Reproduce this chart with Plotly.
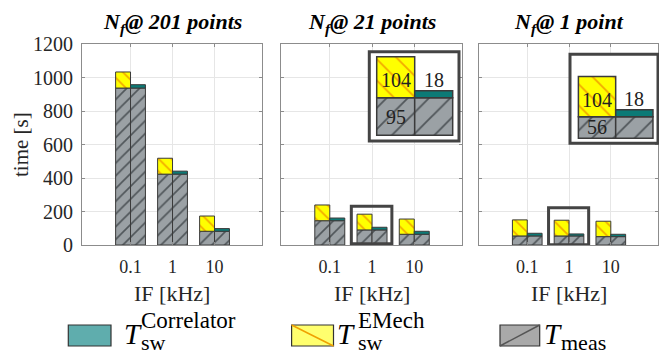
import plotly.graph_objects as go

# ---------------- data ----------------
if_labels = ["0.1", "1", "10"]
panel_titles = ["201 points", "21 points", "1 point"]

t_meas_201 = [937, 423, 82]
t_emech_201 = [96, 95, 91]
t_corr_201 = [20, 18, 16]

t_meas_21 = [145, 90, 64]
t_emech_21 = [94, 94, 91]
t_corr_21 = [16, 16, 18]

t_meas_1 = [54, 54, 50]
t_emech_1 = [96, 94, 92]
t_corr_1 = [16, 12, 14]

inset21_meas = [95]
inset21_emech = [104]
inset21_corr = [18]
inset1_meas = [56]
inset1_emech = [104]
inset1_corr = [18]

# ---------------- styling ----------------
W, H = 659, 354
SERIF = "Liberation Serif"
GRAY = "#9ba1a5"
GRAY_HATCH = "#50565a"
YEL = "#ffff00"
YEL_HATCH = "#f2a900"
TEAL = "#0c7a76"
EDGE = "#3a3a3a"
AX = "#8c8c8c"
GRID = "#e6e6e6"


def px(x):
    return x / W


def py(y):
    return 1 - y / H


fig = go.Figure()

xs = [1, 2, 3]
BW = 0.355
panels = [
    (t_meas_201, t_emech_201, t_corr_201),
    (t_meas_21, t_emech_21, t_corr_21),
    (t_meas_1, t_emech_1, t_corr_1),
]


def add_group(meas, emech, corr, xa, ya, xv, bw, hsize, lw, sol):
    gpat = dict(shape="/", fgcolor=GRAY_HATCH, bgcolor=GRAY, size=hsize, solidity=sol)
    ypat = dict(shape="\\", fgcolor=YEL_HATCH, bgcolor=YEL, size=hsize, solidity=sol)
    common = dict(xaxis=xa, yaxis=ya, showlegend=False, hoverinfo="skip")
    # left stack: T_meas + T_sw^EMech
    fig.add_trace(go.Bar(x=xv, y=meas, base=[0] * len(meas), offset=-bw, width=bw,
                         marker=dict(color=GRAY, pattern=gpat, line=dict(color=EDGE, width=lw)), **common))
    fig.add_trace(go.Bar(x=xv, y=emech, base=meas, offset=-bw, width=bw,
                         marker=dict(color=YEL, pattern=ypat, line=dict(color=EDGE, width=lw)), **common))
    # right stack: T_meas + T_sw^Correlator
    fig.add_trace(go.Bar(x=xv, y=meas, base=[0] * len(meas), offset=0, width=bw,
                         marker=dict(color=GRAY, pattern=gpat, line=dict(color=EDGE, width=lw)), **common))
    fig.add_trace(go.Bar(x=xv, y=corr, base=meas, offset=0, width=bw,
                         marker=dict(color=TEAL, line=dict(color=EDGE, width=lw)), **common))


axnames = [("x", "y"), ("x2", "y2"), ("x3", "y3")]
for (meas, emech, corr), (xa, ya) in zip(panels, axnames):
    add_group(meas, emech, corr, xa, ya, xs, BW, 9, 1, 0.18)

# inset axes ranges
inset_ranges = {
    "4": ([-0.195, 2.166], [-14.4, 211.6]),
    "5": ([-0.225, 2.135], [-13, 217.6]),
}
# white backing for the insets (hides the main panel grid beneath)
for k, (xr, yr) in inset_ranges.items():
    fig.add_trace(go.Bar(x=[(xr[0] + xr[1]) / 2], y=[yr[1] - yr[0]], base=[yr[0]], width=[xr[1] - xr[0]],
                         marker=dict(color="white", line=dict(width=0)), xaxis="x" + k, yaxis="y" + k,
                         showlegend=False, hoverinfo="skip"))

# insets (zoom on the 1 kHz group)
add_group(inset21_meas, inset21_emech, inset21_corr, "x4", "y4", [1], 1.0, 15, 1.5, 0.12)
add_group(inset1_meas, inset1_emech, inset1_corr, "x5", "y5", [1], 1.0, 15, 1.5, 0.12)

# ---------------- axes ----------------
xdoms = [(82, 262), (281, 462), (479, 658)]
ydom = [py(245), py(44)]
layout = dict(
    template="none",
    width=W, height=H, margin=dict(l=0, r=0, t=0, b=0, autoexpand=False),
    paper_bgcolor="white", plot_bgcolor="white", barmode="overlay",
    font=dict(family=SERIF, color="#262626"),
)
for i, (a, b) in enumerate(xdoms):
    sfx = "" if i == 0 else str(i + 1)
    layout["xaxis" + sfx] = dict(
        domain=[px(a), px(b)], anchor="y" + sfx, range=[-0.155, 4.13],
        tickvals=xs, ticktext=if_labels, showgrid=True, gridcolor=GRID, gridwidth=1,
        showline=True, mirror="ticks", linecolor=AX, linewidth=1,
        ticks="inside", ticklen=3, tickcolor=AX, zeroline=False, fixedrange=True,
        tickfont=dict(family=SERIF, size=18, color="#262626"), ticklabelstandoff=5,
    )
    layout["yaxis" + sfx] = dict(
        domain=ydom, anchor="x" + sfx, range=[0, 1200], dtick=200,
        showgrid=True, gridcolor=GRID, gridwidth=1,
        showline=True, mirror="ticks", linecolor=AX, linewidth=1,
        ticks="inside", ticklen=3, tickcolor=AX, zeroline=False, fixedrange=True,
        showticklabels=(i == 0),
        tickfont=dict(family=SERIF, size=20, color="#262626"), ticklabelstandoff=4,
    )

layout["xaxis4"] = dict(domain=[px(369.3), px(459)], anchor="y4", range=inset_ranges["4"][0], visible=False, fixedrange=True)
layout["yaxis4"] = dict(domain=[py(141), py(51.7)], anchor="x4", range=inset_ranges["4"][1], visible=False, fixedrange=True)
layout["xaxis5"] = dict(domain=[px(570), px(658)], anchor="y5", range=inset_ranges["5"][0], visible=False, fixedrange=True)
layout["yaxis5"] = dict(domain=[py(143.3), py(54.3)], anchor="x5", range=inset_ranges["5"][1], visible=False, fixedrange=True)
fig.update_layout(**layout)

shapes = []
annotations = []

# inset borders
for xa, ya in (("x4", "y4"), ("x5", "y5")):
    shapes.append(dict(type="rect", xref=xa + " domain", yref=ya + " domain", x0=0, x1=1, y0=0, y1=1,
                       line=dict(color="#444444", width=3), layer="above"))

# zoom boxes in main panels
shapes.append(dict(type="rect", xref="x2", yref="y2", x0=1.51, x1=2.47, y0=7, y1=232,
                   line=dict(color="#444444", width=3), layer="above"))
shapes.append(dict(type="rect", xref="x3", yref="y3", x0=1.51, x1=2.47, y0=2, y1=222,
                   line=dict(color="#444444", width=3), layer="above"))

# inset labels
for xa, ya, m, e, c in (("x4", "y4", inset21_meas[0], inset21_emech[0], inset21_corr[0]),
                        ("x5", "y5", inset1_meas[0], inset1_emech[0], inset1_corr[0])):
    annotations.append(dict(xref=xa, yref=ya, x=0.5, y=m + e / 2, text=str(e), showarrow=False,
                            yshift=-3, font=dict(family=SERIF, size=20, color="#222222")))
    annotations.append(dict(xref=xa, yref=ya, x=1.5, y=m + c, text=str(c), showarrow=False,
                            yanchor="bottom", yshift=-2, font=dict(family=SERIF, size=20, color="#222222")))
    annotations.append(dict(xref=xa, yref=ya, x=0.5, y=m / 2, text=str(m), showarrow=False,
                            font=dict(family=SERIF, size=20, color="#222222")))

# titles and axis titles
for (a, b), t in zip(xdoms, panel_titles):
    cx = (a + b) / 2
    annotations.append(dict(xref="paper", yref="paper", x=px(cx), y=py(23), xanchor="center", yanchor="middle",
                            text="<b><i>N<sub>f</sub>@ " + t + "</i></b>", showarrow=False,
                            font=dict(family=SERIF, size=22, color="black")))
    annotations.append(dict(xref="paper", yref="paper", x=px(cx), y=py(293), xanchor="center", yanchor="middle",
                            text="IF [kHz]", showarrow=False, font=dict(family=SERIF, size=22, color="#262626")))
annotations.append(dict(xref="paper", yref="paper", x=px(21), y=py(145), xanchor="center", yanchor="middle",
                        text="time [s]", textangle=-90, showarrow=False,
                        font=dict(family=SERIF, size=21, color="#262626")))

# legend (custom)
leg_items = [
    (68.3, 111, "#5fadad", None, 121.5, 139.0, "Correlator", "sw"),
    (291.6, 333.5, "#ffff6e", "\\", 335.0, 356.5, "EMech", "sw"),
    (500, 539.7, "#a9a9a9", "/", 541.8, 559.0, None, "meas"),
]
for x0, x1, fill, diag, tx, sx, sup, sub in leg_items:
    shapes.append(dict(type="rect", xref="paper", yref="paper", x0=px(x0), x1=px(x1), y0=py(346), y1=py(325),
                       fillcolor=fill, line=dict(color="#333333", width=1.2), layer="above"))
    if diag == "\\":
        shapes.append(dict(type="line", xref="paper", yref="paper", x0=px(x0), y0=py(325), x1=px(x1), y1=py(346),
                           line=dict(color="#f0a000", width=1.5), layer="above"))
    elif diag == "/":
        shapes.append(dict(type="line", xref="paper", yref="paper", x0=px(x0), y0=py(346), x1=px(x1), y1=py(325),
                           line=dict(color="#555555", width=1.5), layer="above"))
    annotations.append(dict(xref="paper", yref="paper", x=px(tx), y=py(334), xanchor="left", yanchor="middle",
                            text="<i>T</i>", showarrow=False, font=dict(family=SERIF, size=29, color="black")))
    if sup:
        annotations.append(dict(xref="paper", yref="paper", x=px(sx), y=py(320), xanchor="left", yanchor="middle",
                                text=sup, showarrow=False, font=dict(family=SERIF, size=23, color="black")))
    annotations.append(dict(xref="paper", yref="paper", x=px(sx), y=py(342), xanchor="left", yanchor="middle",
                            text=sub, showarrow=False, font=dict(family=SERIF, size=22, color="black")))

fig.update_layout(shapes=shapes, annotations=annotations)
fig.write_html("out.html")
